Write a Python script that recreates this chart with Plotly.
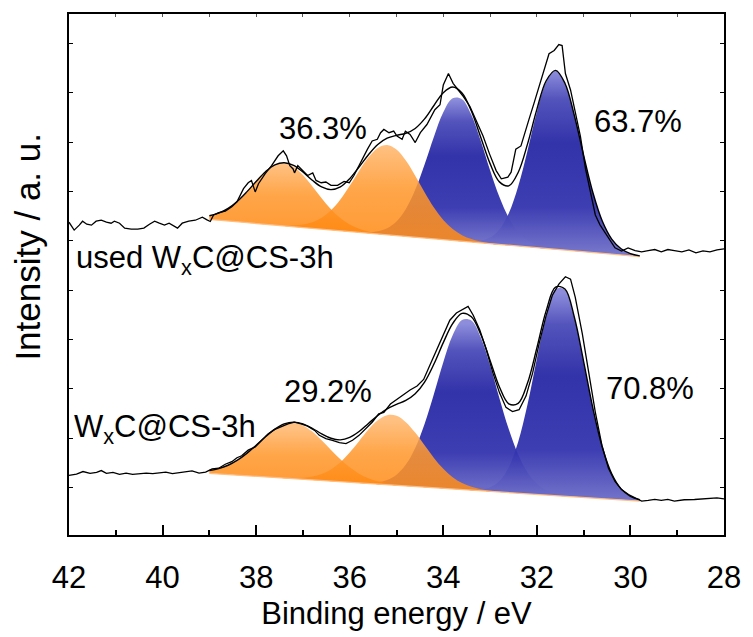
import numpy as np
import plotly.graph_objects as go

# ---------------- data (binding energy in eV, intensity in a.u.) ----------------
used_raw_be = [42.00, 41.89, 41.78, 41.71, 41.62, 41.52, 41.42, 41.31, 41.20, 41.10, 41.03, 40.92, 40.81,
               40.67, 40.53, 40.40, 40.28, 40.17, 40.07, 39.96, 39.86, 39.75, 39.68, 39.58, 39.44, 39.30,
               39.15, 39.05, 38.98, 38.91, 38.80, 38.66, 38.52, 38.41, 38.34, 38.27, 38.17, 38.10, 38.02,
               37.95, 37.81, 37.67, 37.53, 37.42, 37.35, 37.28, 37.21, 37.18, 37.11, 37.00, 36.90, 36.79,
               36.72, 36.61, 36.51, 36.40, 36.26, 36.12, 36.01, 35.91, 35.77, 35.62, 35.52, 35.41, 35.34,
               35.27, 35.16, 35.06, 34.99, 34.88, 34.81, 34.71, 34.60, 34.49, 34.35, 34.25, 34.18, 34.07,
               34.00, 33.89, 33.79, 33.68, 33.57, 33.43, 33.29, 33.15, 33.01, 32.87, 32.76, 32.62, 32.55,
               32.45, 32.34, 32.27, 32.17, 32.06, 31.95, 31.85, 31.74, 31.63, 31.53, 31.46, 31.39, 31.28,
               31.18, 31.07, 30.96, 30.86, 30.75, 30.65, 30.54, 30.43, 30.33, 30.19, 30.05, 29.90, 29.76,
               29.62, 29.48, 29.34, 29.20, 29.06, 28.90, 28.75, 28.60, 28.45, 28.30, 28.15, 28.00]
used_raw_int = [319, 311, 316, 320, 317, 316, 320, 321, 319, 318, 320, 318, 313, 312, 312, 313, 317, 320,
                318, 316, 318, 315, 313, 318, 320, 321, 324, 321.3, 319.7, 326.3, 328.7, 330.3, 334.7,
                339.7, 346.3, 353, 359, 361.3, 349.7, 358, 368, 376.3, 386.3, 391.3, 386.3, 376.3, 373,
                369, 376.3, 371.3, 366.3, 369, 361.3, 359, 359.7, 356.3, 356.3, 360.3, 359, 366.3, 379.7,
                393, 401.3, 403, 409.7, 413, 409.7, 411.3, 406.3, 403, 411.3, 408, 399.7, 409.7, 418,
                426.3, 433, 438, 458, 469.7, 459.7, 453, 446.3, 436.3, 421.3, 406.3, 388, 371.3, 363,
                364.7, 369.7, 393, 396.3, 408, 423, 439.7, 456.3, 473, 489.7, 493, 499, 498, 469.7, 453,
                429.7, 406.3, 373, 349.7, 326.3, 316.3, 308, 299.7, 293, 289.7, 293, 290.3, 289, 290.3,
                291.3, 289, 291.3, 290.3, 289, 291, 288, 290, 289, 291, 292]

fresh_raw_be = [42.00, 41.84, 41.70, 41.55, 41.41, 41.31, 41.20, 41.06, 40.92, 40.78, 40.64, 40.50, 40.35,
                40.21, 40.07, 39.93, 39.79, 39.65, 39.51, 39.37, 39.22, 39.08, 38.94, 38.80, 38.66, 38.52,
                38.41, 38.31, 38.17, 38.02, 37.88, 37.74, 37.60, 37.46, 37.32, 37.18, 37.04, 36.90, 36.75,
                36.65, 36.51, 36.37, 36.22, 36.08, 35.94, 35.80, 35.66, 35.52, 35.38, 35.27, 35.13, 34.99,
                34.85, 34.71, 34.56, 34.42, 34.28, 34.14, 34.00, 33.86, 33.72, 33.57, 33.47, 33.36, 33.22,
                33.08, 32.94, 32.80, 32.66, 32.52, 32.38, 32.23, 32.09, 31.95, 31.81, 31.67, 31.53, 31.39,
                31.28, 31.18, 31.03, 30.89, 30.75, 30.61, 30.47, 30.33, 30.19, 30.04, 29.90, 29.76, 29.62,
                29.48, 29.34, 29.20, 29.06, 28.85, 28.63, 28.45, 28.30, 28.15, 28.00]
fresh_raw_int = [62.5, 63.7, 66.3, 64.5, 65.5, 67.3, 64.5, 65.5, 63.5, 64.7, 63.5, 64.0, 64.7, 64.3, 64.7,
                 65.7, 64.3, 65.3, 66.3, 67.0, 64.7, 65.7, 69.0, 69.7, 73.7, 76.3, 80.3, 82.3, 88.0, 91.3,
                 98.0, 104.7, 109.0, 112.0, 114.7, 116.3, 114.7, 112.3, 108.0, 103.0, 99.7, 98.0, 95.7,
                 94.7, 98.0, 103.0, 109.7, 116.3, 124.7, 126.3, 134.7, 139.7, 144.7, 149.0, 153.0, 159.7,
                 174.7, 189.7, 206.3, 219.7, 227.0, 231.3, 233.7, 224.7, 209.7, 189.7, 166.3, 146.3, 131.3,
                 127.0, 129.0, 143.0, 166.3, 196.3, 223.0, 244.7, 256.3, 263.7, 261.3, 243.0, 206.3, 166.3,
                 126.3, 93.0, 69.7, 56.3, 48.0, 43.0, 39.7, 36.3, 37.0, 38.0, 37.0, 38.0, 36.3, 37.7, 38.0,
                 38.7, 39.3, 39.7, 38.7]

# fitted region grid (39.0 -> 29.8 eV, step 0.2)
fit_be = [39.0, 38.8, 38.6, 38.4, 38.2, 38.0, 37.8, 37.6, 37.4, 37.2, 37.0, 36.8, 36.6, 36.4, 36.2, 36.0,
          35.8, 35.6, 35.4, 35.2, 35.0, 34.8, 34.6, 34.4, 34.2, 34.0, 33.8, 33.6, 33.4, 33.2, 33.0, 32.8,
          32.6, 32.4, 32.2, 32.0, 31.8, 31.6, 31.4, 31.2, 31.0, 30.8, 30.6, 30.4, 30.2, 30.0, 29.8]

# linear background end points
used_bg_be = [39.0, 29.8]
used_bg_int = [321.8, 284.2]
fresh_bg_be = [39.0, 29.8]
fresh_bg_int = [64.5, 36.4]

# component heights above background (on fit_be)
used_c1 = [3.7, 7.2, 12.8, 20.9, 31.2, 42.6, 53.2, 60.8, 63.5, 60.8, 53.2, 42.6, 31.2, 20.9, 12.8, 7.2,
           3.7, 1.7, 0.8, 0.3, 0.1] + [0] * 26
used_c2 = [0] * 6 + [0.1, 0.2, 0.5, 1.3, 3.0, 6.1, 11.5, 19.9, 31.6, 46.3, 62.2, 76.8, 87.2, 91.0, 87.2,
                     76.8, 62.2, 46.3, 31.6, 19.9, 11.5, 6.1, 3.0, 1.3, 0.5, 0.2, 0.1] + [0] * 14
used_c3 = [0] * 15 + [0.1, 0.3, 1.0, 2.7, 6.6, 14.3, 27.7, 48.0, 74.4, 103.5, 129.0, 144.0, 144.0, 129.0,
                      103.5, 74.4, 48.0, 27.7, 14.3, 6.6, 2.7, 1.0, 0.3, 0.1] + [0] * 8
used_c4 = [0] * 27 + [0.2, 0.7, 2.2, 6.2, 15.2, 32.4, 60.3, 97.5, 137.5, 169.0, 181.0, 169.0, 137.5, 97.5,
                      60.3, 32.4, 15.2, 6.2, 2.2, 0.7]

fresh_c1 = [2.9, 5.4, 9.4, 15.2, 22.7, 31.6, 40.8, 49.0, 54.7, 56.7, 54.7, 49.0, 40.8, 31.6, 22.7, 15.2,
            9.4, 5.4, 2.9, 1.5, 0.7, 0.3, 0.1] + [0] * 24
fresh_c2 = [0] * 7 + [0.1, 0.3, 0.7, 1.6, 3.4, 6.6, 11.9, 19.8, 30.3, 42.4, 54.7, 64.7, 70.5, 70.5, 64.7,
                      54.7, 42.4, 30.3, 19.8, 11.9, 6.6, 3.4, 1.6, 0.7, 0.3, 0.1] + [0] * 14
fresh_c3 = [0] * 15 + [0.1, 0.3, 0.8, 2.0, 4.9, 10.9, 21.7, 39.2, 64.1, 95.1, 127.9, 155.7, 171.9, 171.9,
                       155.7, 127.9, 95.1, 64.1, 39.2, 21.7, 10.9, 4.9, 2.0, 0.8, 0.3, 0.1] + [0] * 6
fresh_c4 = [0] * 27 + [0.1, 0.4, 1.4, 4.2, 11.1, 25.8, 51.8, 90.5, 137.6, 182.0, 209.3, 209.3, 182.0,
                       137.6, 90.5, 51.8, 25.8, 11.1, 4.2, 1.4]

sample_labels = ["used W<sub>x</sub>C@CS-3h", "W<sub>x</sub>C@CS-3h"]
ratio_labels = [("36.3%", "63.7%"), ("29.2%", "70.8%")]

# ---------------- figure ----------------
FONT = "Liberation Sans, Arial, Helvetica, sans-serif"
BLUE_CS = [[0.0, "rgba(110,110,200,0.95)"], [0.25, "rgba(52,52,175,0.95)"],
           [0.6, "rgba(40,40,165,0.95)"], [0.85, "rgba(75,75,185,0.95)"],
           [1.0, "rgba(135,135,218,0.95)"]]
ORANGE_CS = [[0.0, "rgba(255,138,20,0.86)"], [0.55, "rgba(255,152,45,0.86)"],
             [1.0, "rgba(255,182,108,0.86)"]]

fig = go.Figure()
x = np.array(fit_be)


def add_spectrum(raw_be, raw_int, bg_be, bg_int, comps):
    bg = np.interp(x[::-1], bg_be[::-1], bg_int[::-1])[::-1]
    order = [(comps[3], BLUE_CS), (comps[2], BLUE_CS), (comps[1], ORANGE_CS), (comps[0], ORANGE_CS)]
    for comp, cs in order:
        comp = np.array(comp, dtype=float)
        top = bg + comp
        k = int(np.argmax(comp))
        fig.add_trace(go.Scatter(x=x, y=bg, mode="lines", line=dict(width=0, shape="spline"),
                                 hoverinfo="skip", showlegend=False))
        fig.add_trace(go.Scatter(x=x, y=top, mode="lines", fill="tonexty",
                                 line=dict(width=0, shape="spline", smoothing=1),
                                 fillgradient=dict(type="vertical", colorscale=cs,
                                                   start=float(bg[k]), stop=float(top[k])),
                                 hoverinfo="skip", showlegend=False))
    # background line
    fig.add_trace(go.Scatter(x=bg_be, y=bg_int, mode="lines",
                             line=dict(color="rgb(255,190,130)", width=1.3),
                             hoverinfo="skip", showlegend=False))
    # raw data
    fig.add_trace(go.Scatter(x=raw_be, y=raw_int, mode="lines",
                             line=dict(color="black", width=1.3),
                             hoverinfo="skip", showlegend=False))
    # envelope
    env = bg + np.sum(np.array(comps, dtype=float), axis=0)
    fig.add_trace(go.Scatter(x=x, y=env, mode="lines",
                             line=dict(color="black", width=1.4, shape="spline", smoothing=1),
                             hoverinfo="skip", showlegend=False))


add_spectrum(used_raw_be, used_raw_int, used_bg_be, used_bg_int, [used_c1, used_c2, used_c3, used_c4])
add_spectrum(fresh_raw_be, fresh_raw_int, fresh_bg_be, fresh_bg_int, [fresh_c1, fresh_c2, fresh_c3, fresh_c4])

# dummy trace for the top axis
fig.add_trace(go.Scatter(x=[42, 28], y=[0, 0], xaxis="x2", mode="lines", line=dict(width=0),
                         hoverinfo="skip", showlegend=False))

tf = dict(family=FONT, size=31, color="black")
annos = [
    dict(x=41.89, y=281, text=sample_labels[0], xanchor="left"),
    dict(x=41.94, y=109, text=sample_labels[1], xanchor="left"),
    dict(x=36.58, y=414, text=ratio_labels[0][0], xanchor="center"),
    dict(x=29.83, y=421, text=ratio_labels[0][1], xanchor="center"),
    dict(x=36.46, y=147, text=ratio_labels[1][0], xanchor="center"),
    dict(x=29.59, y=150, text=ratio_labels[1][1], xanchor="center"),
]
for a in annos:
    fig.add_annotation(x=a["x"], y=a["y"], text=a["text"], xanchor=a["xanchor"], yanchor="middle",
                       showarrow=False, font=tf, xref="x", yref="y")

# y axis title (rotated text placed left of the plot area)
fig.add_annotation(x=-0.063, y=0.553, xref="paper", yref="paper", text="Intensity / a. u.",
                   textangle=-90, showarrow=False, xanchor="center", yanchor="middle",
                   font=dict(family=FONT, size=35, color="black"))

fig.update_layout(
    width=753, height=637,
    margin=dict(l=69, r=23, t=13, b=96),
    paper_bgcolor="white", plot_bgcolor="white",
    font=dict(family=FONT, color="black"),
    xaxis=dict(range=[42, 28], tickvals=list(range(28, 43, 2)), ticks="inside", ticklen=10,
               tickwidth=1.5, tickcolor="black", showline=True, linewidth=2, linecolor="black",
               mirror=True, showgrid=False, zeroline=False, tickfont=tf, ticklabelstandoff=14,
               minor=dict(tickvals=list(range(29, 42, 2)), ticks="inside", ticklen=5, tickwidth=1.5,
                          tickcolor="black", showgrid=False),
               title=dict(text="Binding energy / eV", font=tf, standoff=8)),
    xaxis2=dict(range=[42, 28], overlaying="x", side="top", tickvals=list(range(28, 43)),
                ticks="inside", ticklen=3, tickwidth=1, tickcolor="#555", showticklabels=False,
                showline=False, showgrid=False, zeroline=False),
    yaxis=dict(range=[2, 530], tickvals=list(range(50, 501, 50)), ticks="inside", ticklen=4,
               tickwidth=1, tickcolor="black", showticklabels=False, showline=True, linewidth=2,
               linecolor="black", mirror="ticks", showgrid=False, zeroline=False),
)

fig.write_html("out.html")
